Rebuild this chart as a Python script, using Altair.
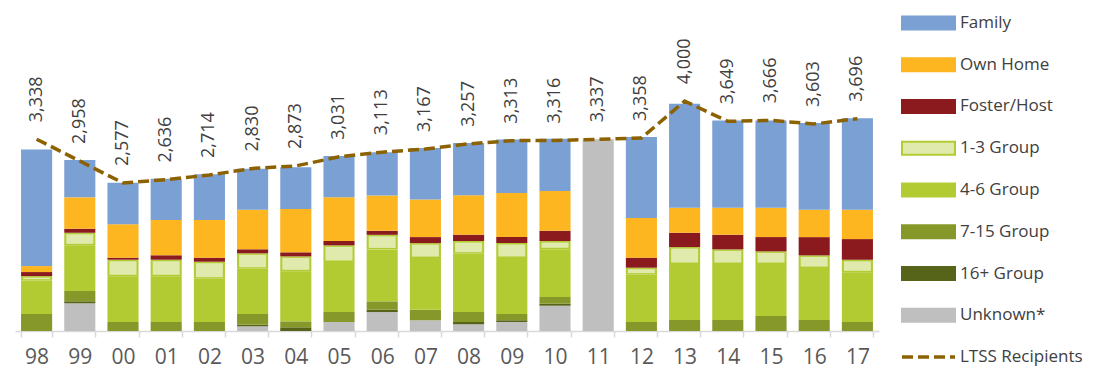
import altair as alt
import pandas as pd

years = ["98", "99", "00", "01", "02", "03", "04", "05", "06", "07",
         "08", "09", "10", "11", "12", "13", "14", "15", "16", "17"]

family    = [2030, 649, 723, 718, 795, 713, 730, 718, 753, 897, 910, 934, 910, 0, 1409, 1809, 1520, 1520, 1513, 1595]
own_home  = [104, 546, 581, 614, 656, 689, 753, 760, 616, 656, 685, 765, 690, 0, 690, 435, 470, 510, 475, 510]
foster    = [70, 70, 35, 77, 70, 70, 70, 75, 70, 104, 110, 104, 179, 0, 174, 249, 254, 249, 318, 360]
group_1_3 = [80, 219, 289, 289, 296, 268, 261, 290, 254, 261, 221, 261, 144, 0, 122, 296, 256, 221, 221, 219]
group_4_6 = [580, 795, 795, 795, 753, 788, 870, 870, 904, 899, 1014, 974, 830, 0, 823, 974, 974, 904, 904, 864]
group_7_15 = [296, 179, 157, 157, 157, 186, 104, 174, 146, 184, 174, 110, 117, 0, 157, 191, 191, 261, 191, 157]
group_16  = [0, 35, 0, 0, 0, 28, 64, 0, 40, 0, 40, 30, 35, 0, 0, 0, 0, 0, 0, 0]
unknown   = [0, 482, 0, 0, 0, 82, 0, 157, 330, 186, 117, 157, 440, 3337, 0, 0, 0, 0, 0, 0]
ltss      = [3338, 2958, 2577, 2636, 2714, 2830, 2873, 3031, 3113, 3167,
             3257, 3313, 3316, 3337, 3358, 4000, 3649, 3666, 3603, 3696]

# bottom -> top stacking order
categories = ["Unknown*", "16+ Group", "7-15 Group", "4-6 Group", "1-3 Group",
              "Foster/Host", "Own Home", "Family"]
series = [unknown, group_16, group_7_15, group_4_6, group_1_3, foster, own_home, family]
fill_colors = ["#bfbfbf", "#566419", "#87982a", "#b3cb33", "#e0eaac",
               "#8b1a1e", "#fdb520", "#7ba0d4"]
edge_13 = "#b3cb33"
line_color = "#8c6200"
text_color = "#404040"

legend_names = ["Family", "Own Home", "Foster/Host", "1-3 Group", "4-6 Group",
                "7-15 Group", "16+ Group", "Unknown*", "LTSS Recipients"]

rows = []
for ci, (cat, vals) in enumerate(zip(categories, series)):
    for y, v in zip(years, vals):
        rows.append({"year": y, "cat": cat, "order": ci, "value": v})
df = pd.DataFrame(rows)
line_df = pd.DataFrame({"year": years, "ltss": ltss})

main_colors = [c if n != "1-3 Group" else edge_13 for n, c in zip(categories, fill_colors)]

xenc = alt.X("year:N", sort=years, title=None,
             scale=alt.Scale(paddingInner=0.28, paddingOuter=0.14),
             axis=alt.Axis(labelAngle=0, labelFontSize=21, labelColor="#595959",
                           domainColor="#d9d9d9", domainWidth=1.5,
                           tickColor="#d9d9d9", tickWidth=1.5, tickSize=6,
                           tickBand="extent", labelPadding=9))
yscale = alt.Scale(domain=[0, 5500], nice=False, zero=True)

base = alt.Chart(df).transform_stack(
    stack="value", groupby=["year"], as_=["y0", "y1"],
    sort=[alt.SortField("order", order="ascending")])

bars = base.mark_bar().encode(
    x=xenc,
    y=alt.Y("y0:Q", scale=yscale, axis=None),
    y2="y1:Q",
    color=alt.Color("cat:N", scale=alt.Scale(domain=categories, range=main_colors), legend=None),
)

inner = base.transform_filter(
    (alt.datum.cat == "1-3 Group") & (alt.datum.value > 60)
).transform_calculate(a="datum.y0 + 26", b="datum.y1 - 26").mark_bar(
    size=27, color="#e0eaac"
).encode(x=xenc, y=alt.Y("a:Q", scale=yscale, axis=None), y2="b:Q")

line = alt.Chart(line_df).mark_line(
    color=line_color, strokeWidth=3.5, strokeDash=[11, 5]
).encode(x=xenc, y=alt.Y("ltss:Q", scale=yscale, axis=None))

labels = alt.Chart(line_df).mark_text(
    angle=270, align="left", baseline="middle", dx=17, fontSize=18, color=text_color
).encode(x=xenc, y=alt.Y("ltss:Q", scale=yscale, axis=None),
         text=alt.Text("ltss:Q", format=","))

main = alt.layer(bars, inner, line, labels).properties(width=864, height=316)

# legend panel
leg_df = pd.DataFrame({"name": legend_names})
yleg = alt.Y("name:N", sort=legend_names, axis=None,
             scale=alt.Scale(type="point", padding=0.19))
leg_fill = fill_colors[::-1]
leg_stroke = main_colors[::-1]

boxes = alt.Chart(leg_df).transform_filter(
    alt.datum.name != "LTSS Recipients"
).mark_bar(size=13, strokeWidth=2).encode(
    x=alt.value(0), x2=alt.value(53), y=yleg,
    fill=alt.Fill("name:N", scale=alt.Scale(domain=legend_names[:-1], range=leg_fill), legend=None),
    stroke=alt.Stroke("name:N", scale=alt.Scale(domain=legend_names[:-1], range=leg_stroke), legend=None),
)
leg_line = alt.Chart(leg_df).transform_filter(
    alt.datum.name == "LTSS Recipients"
).mark_rule(color=line_color, strokeWidth=3.5, strokeDash=[11, 5]).encode(
    x=alt.value(0), x2=alt.value(53), y=yleg)
leg_text = alt.Chart(leg_df).mark_text(
    align="left", baseline="middle", fontSize=17, color=text_color
).encode(x=alt.value(58), y=yleg, text="name:N")

legend = alt.layer(boxes, leg_line, leg_text).properties(width=195, height=350)

chart = alt.hconcat(main, legend, spacing=21).resolve_scale(
    color="independent", fill="independent", stroke="independent"
).properties(
    padding={"left": 7, "top": 5, "right": 5, "bottom": 5}
).configure(font="Open Sans").configure_view(stroke=None)

chart.save("out.html", embed_options={"renderer": "svg", "actions": False})
